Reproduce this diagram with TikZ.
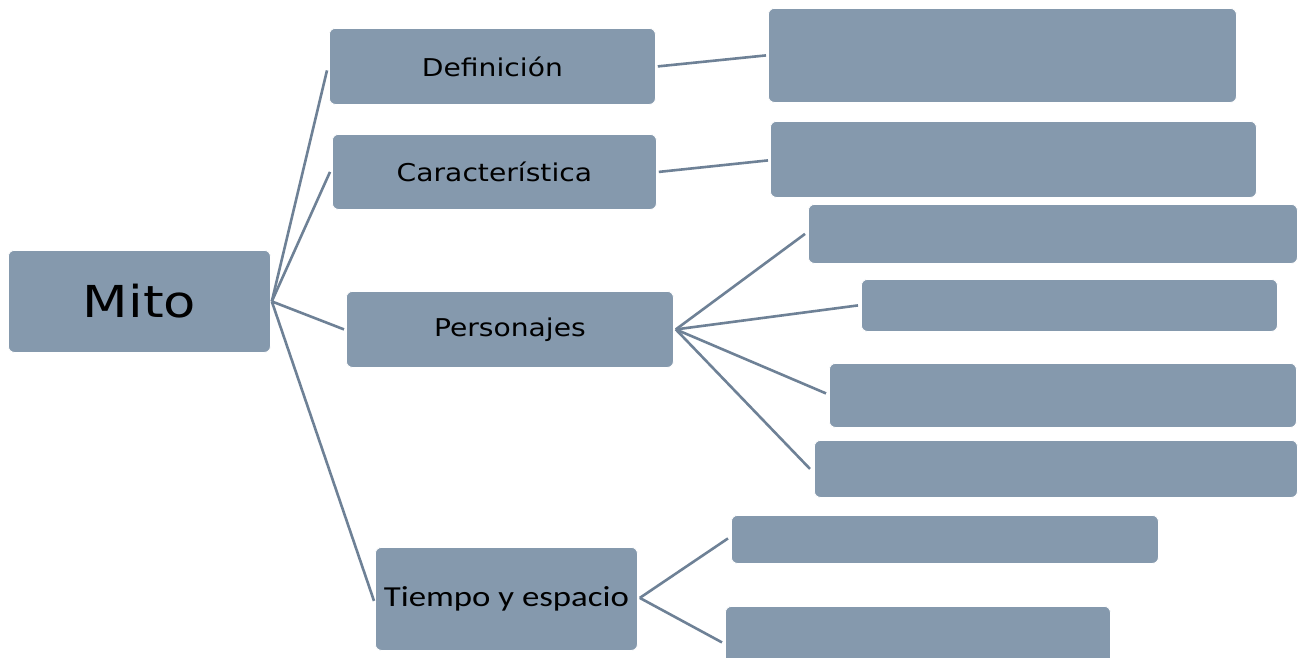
\documentclass[tikz,border=0pt]{standalone}
\usepackage{fontspec}
\setmainfont{DejaVu Sans}
\newfontfamily\verdfont[FakeStretch=1.15]{DejaVu Sans}
\newfontfamily\mitofont[FakeStretch=1.2]{DejaVu Sans}
\newfontfamily\calfont[FakeStretch=1.2]{Carlito}
\begin{document}
\begin{tikzpicture}[x=1pt,y=-1pt,
  box/.style={draw=white,line width=0.8pt,fill=boxfill,rounded corners=6pt,inner sep=0pt,anchor=north west,text=black},
  link/.style={draw=linecol,line width=2.6pt}]
\definecolor{boxfill}{HTML}{8599AD}
\definecolor{linecol}{HTML}{6E8196}
\useasboundingbox (0,0) rectangle (1303,657);
\fill[white] (0,0) rectangle (1303,657);
% main nodes
\node[box,minimum width=262pt,minimum height=102pt,font=\mitofont\fontsize{44}{50}\selectfont] (mito) at (8,250) {Mito};
\node[box,minimum width=326pt,minimum height=76pt,font=\verdfont\fontsize{24.5}{28}\selectfont] (def) at (329,28) {Definición};
\node[box,minimum width=324pt,minimum height=75pt,font=\verdfont\fontsize{24.5}{28}\selectfont] (car) at (332,134) {Característica};
\node[box,minimum width=327pt,minimum height=76pt,font=\verdfont\fontsize{24.5}{28}\selectfont] (per) at (346,291) {Personajes};
\node[box,minimum width=262pt,minimum height=103pt,font=\calfont\fontsize{29}{34}\selectfont] (tie) at (375,547) {Tiempo y espacio};
% right boxes
\node[box,minimum width=468pt,minimum height=94pt] (r1) at (768,8) {};
\node[box,minimum width=486pt,minimum height=76pt] (r2) at (770,121) {};
\node[box,minimum width=489pt,minimum height=59pt] (p1) at (808,204) {};
\node[box,minimum width=416pt,minimum height=52pt] (p2) at (861,279) {};
\node[box,minimum width=467pt,minimum height=64pt] (p3) at (829,363) {};
\node[box,minimum width=483pt,minimum height=57pt] (p4) at (814,440) {};
\node[box,minimum width=427pt,minimum height=48pt] (t1) at (731,515) {};
\node[box,minimum width=385pt,minimum height=60pt] (t2) at (725,606) {};
% connectors
\coordinate (m) at ([xshift=1pt]mito.east);
\draw[link] (m) -- ([xshift=-2pt,yshift=-4pt]def.west);
\draw[link] (m) -- ([xshift=-2pt]car.west);
\draw[link] (m) -- ([xshift=-2pt]per.west);
\draw[link] (m) -- ([xshift=-1pt,yshift=-2pt]tie.west);
\draw[link] ([xshift=2pt]def.east) -- ([xshift=-2pt]r1.west);
\draw[link] ([xshift=2pt]car.east) -- ([xshift=-2pt,yshift=-1pt]r2.west);
\coordinate (pe) at ([xshift=2pt]per.east);
\draw[link] (pe) -- ([xshift=-3pt]p1.west);
\draw[link] (pe) -- ([xshift=-3pt]p2.west);
\draw[link] (pe) -- ([xshift=-3pt,yshift=2pt]p3.west);
\draw[link] (pe) -- ([xshift=-4pt]p4.west);
\coordinate (te) at ([xshift=2pt,yshift=1pt]tie.east);
\draw[link] (te) -- ([xshift=-3pt,yshift=1pt]t1.west);
\draw[link] (te) -- ([xshift=-3pt,yshift=-6pt]t2.west);
\end{tikzpicture}
\end{document}
